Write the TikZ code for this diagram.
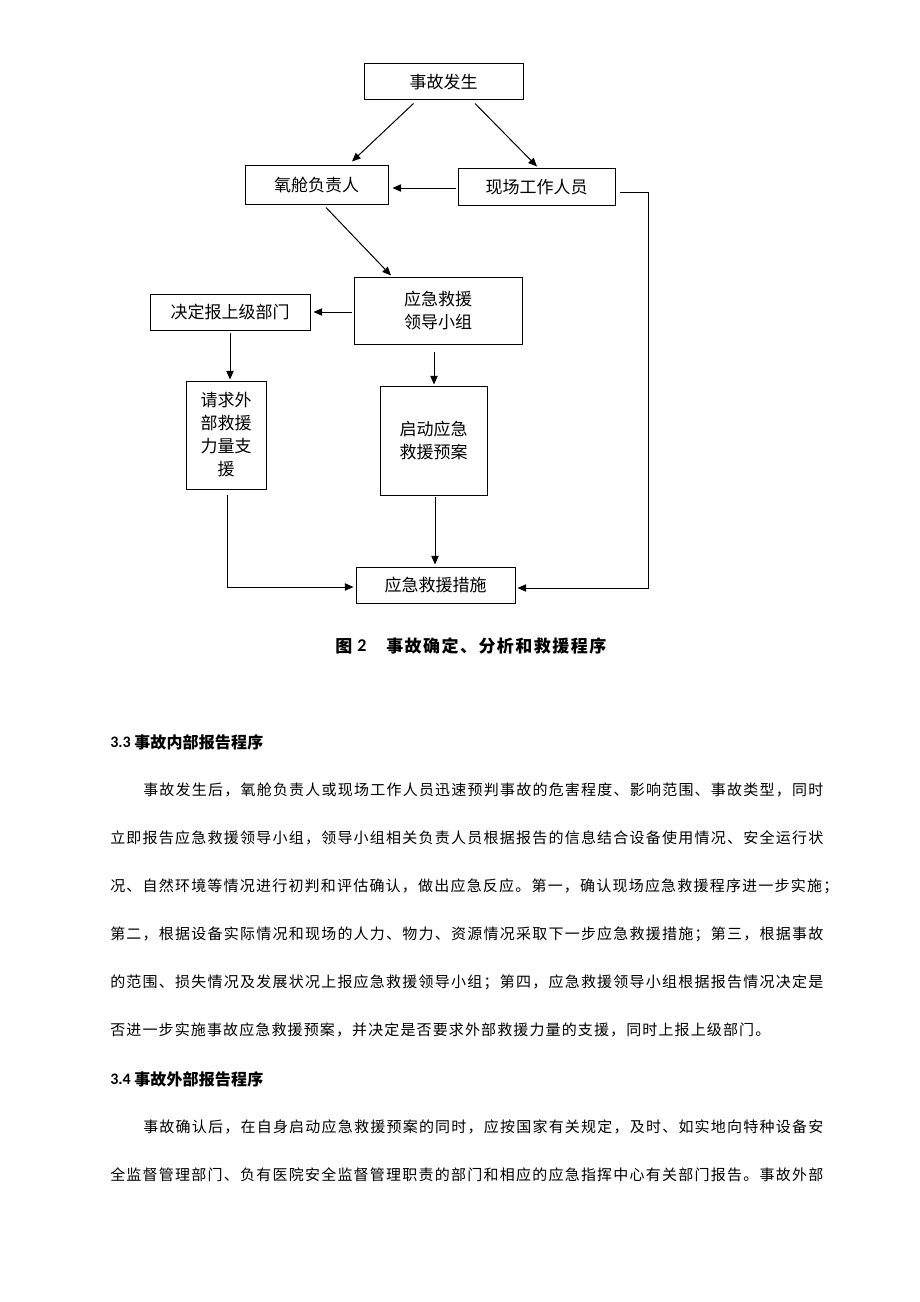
\documentclass[tikz,border=0pt]{standalone}
\usepackage{fontspec}
\usetikzlibrary{arrows.meta,calc}
\setmainfont{Carlito}
\newfontfamily\cjk{Noto Sans CJK SC}
\newfontfamily\carl{Carlito}
\def\spr#1{#1\sprB}
\def\sprB#1{\ifx#1\relax\else\hfil#1\expandafter\sprB\fi}
\begin{document}
\begin{tikzpicture}[x=0.75pt,y=-0.75pt,
  box/.style={draw, line width=0.75pt, inner sep=0pt, align=center,
    font=\cjk\fontsize{12.75}{17.25}\selectfont},
  arr/.style={line width=0.75pt, -{Triangle[length=6.5pt,width=5.5pt]}},
  txt/.style={inner sep=0pt, anchor=west, font=\cjk\fontsize{11.25}{13}\selectfont},
  head/.style={inner sep=0pt, anchor=west, font=\bfseries\fontsize{12}{14}\selectfont}]
\fill[white] (0,0) rectangle (920,1302);
\useasboundingbox (0,0) rectangle (920,1302);
% boxes
\node[box, minimum width=119.25pt, minimum height=27pt] (acc) at (443.5,82) {事故发生};
\node[box, minimum width=107.25pt, minimum height=28.5pt] (yc) at (316.5,185) {氧舱负责人};
\node[box, minimum width=117.75pt, minimum height=27pt] (xc) at (536.5,187) {现场工作人员};
\node[box, minimum width=126pt, minimum height=50.25pt] (ld) at (438,310.5) {应急救援\\领导小组};
\node[box, minimum width=120pt, minimum height=27pt] (jd) at (230,312) {决定报上级部门};
\node[box, minimum width=60pt, minimum height=81pt] (qq) at (226,435) {请求外\\部救援\\力量支\\援};
\node[box, minimum width=80.25pt, minimum height=81.75pt] (qd) at (433.5,440.5) {启动应急\\救援预案};
\node[box, minimum width=119.25pt, minimum height=27pt] (cs) at (435.5,585) {应急救援措施};
\coordinate (r1) at (648,192);
\coordinate (r2) at (648,588);
% connectors
\draw[arr] ($(acc.south)+(-30,3)$) -- ($(yc.north)+(35.5,-4)$);
\draw[arr] ($(acc.south)+(31.5,3)$) -- ($(xc.north)+(0.5,-2)$);
\draw[arr] ($(xc.west)+(-2,1)$) -- ($(yc.east)+(4,3)$);
\draw[arr] ($(yc.south)+(9.5,3)$) -- ($(ld.north)+(-47,-1)$);
\draw[arr] ($(ld.west)+(-2,1.5)$) -- ($(jd.east)+(3,0)$);
\draw[arr] ($(jd.south)+(0,2)$) -- ($(qq.north)+(4,-1)$);
\draw[arr] ($(ld.south)+(-4,7)$) -- ($(qd.north)+(0.5,-1)$);
\draw[arr] ($(qd.south)+(1.5,1)$) -- ($(cs.north)+(-0.5,-2)$);
\draw[arr] ($(qq.south)+(1,5)$) |- ($(cs.west)+(-2,2)$);
\draw[arr] ($(xc.east)+(4,5)$) -- (r1) -- (r2) -- ($(cs.east)+(2,3)$);
% caption
\node[inner sep=0pt, anchor=west, font=\cjk\bfseries\fontsize{12.75}{15}\selectfont] (cap1) at (335,646) {图};
\node[inner sep=0pt, anchor=west, font=\carl\bfseries\fontsize{13.5}{15}\selectfont] (cap2) at (357,646) {2};
\node[inner sep=0pt, anchor=west, font=\cjk\bfseries\fontsize{12.75}{15}\selectfont] (cap3) at (386,646) {\makebox[165pt][s]{\spr 事故确定、分析和救援程序\relax}};
% section 3.3
\node[head] (h1a) at (110,742) {\carl 3.3};
\node[head] (h1b) at (134,742) {\cjk\makebox[96.75pt][s]{\spr 事故内部报告程序\relax}};
\node[txt] (l1) at (143,790) {\makebox[510pt][s]{\spr 事故发生后，氧舱负责人或现场工作人员迅速预判事故的危害程度、影响范围、事故类型，同时\relax}};
\node[txt] (l2) at (110,838) {\makebox[534.75pt][s]{\spr 立即报告应急救援领导小组，领导小组相关负责人员根据报告的信息结合设备使用情况、安全运行状\relax}};
\node[txt] (l3) at (110,886) {\makebox[546pt][s]{\spr 况、自然环境等情况进行初判和评估确认，做出应急反应。第一，确认现场应急救援程序进一步实施；\relax}};
\node[txt] (l4) at (110,934) {\makebox[534.75pt][s]{\spr 第二，根据设备实际情况和现场的人力、物力、资源情况采取下一步应急救援措施；第三，根据事故\relax}};
\node[txt] (l5) at (110,982) {\makebox[534.75pt][s]{\spr 的范围、损失情况及发展状况上报应急救援领导小组；第四，应急救援领导小组根据报告情况决定是\relax}};
\node[txt] (l6) at (110,1030) {\makebox[495pt][s]{\spr 否进一步实施事故应急救援预案，并决定是否要求外部救援力量的支援，同时上报上级部门。\relax}};
% section 3.4
\node[head] (h2a) at (110,1079) {\carl 3.4};
\node[head] (h2b) at (134,1079) {\cjk\makebox[96.75pt][s]{\spr 事故外部报告程序\relax}};
\node[txt] (m1) at (143,1127) {\makebox[510pt][s]{\spr 事故确认后，在自身启动应急救援预案的同时，应按国家有关规定，及时、如实地向特种设备安\relax}};
\node[txt] (m2) at (110,1175) {\makebox[534.75pt][s]{\spr 全监督管理部门、负有医院安全监督管理职责的部门和相应的应急指挥中心有关部门报告。事故外部\relax}};
\end{tikzpicture}
\end{document}
